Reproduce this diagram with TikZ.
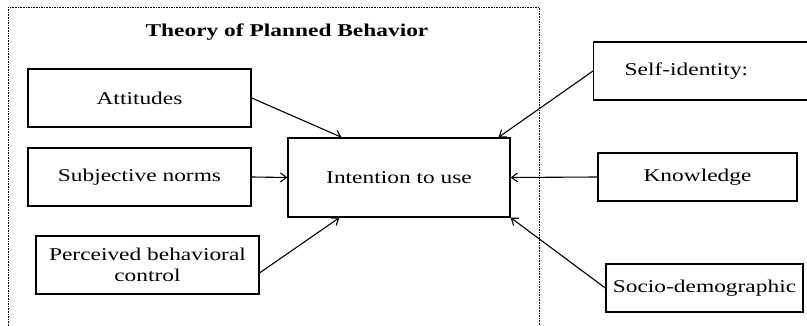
\documentclass[tikz,border=0pt]{standalone}
\usepackage{fontspec}
\setmainfont[FakeStretch=1.3]{Liberation Serif}
\usepackage{tikz}
\usetikzlibrary{positioning,arrows.meta}

\begin{document}
\begin{tikzpicture}[x=1pt, y=-1pt,
    every node/.style = {font=\fontsize{18}{21}\selectfont},
    factor/.style     = {draw, line width=1.4pt, inner sep=2pt, align=center},
    target/.style     = {factor, minimum width=222pt, minimum height=79pt},
    link/.style       = {line width=1.1pt, -{Straight Barb[length=6pt,width=9pt]}}]

  \useasboundingbox (0,0) rectangle (807,326);

  % theory frame
  \node[draw, dash pattern=on 1.6pt off 1pt, line width=0.6pt, anchor=north west,
        minimum width=531pt, minimum height=340pt, inner sep=0pt] (tpb) at (8,7) {};
  \node[font=\fontsize{18}{21}\selectfont\bfseries] (tpb_t) at (287,32) {Theory of Planned Behavior};

  \node[factor, minimum width=223pt, minimum height=58pt] (att)  at (139.5,98)  {Attitudes};
  \node[factor, minimum width=223pt, minimum height=58pt] (subj) at (139.5,177) {Subjective norms};
  \node[factor, minimum width=223pt, minimum height=58pt] (pbc)  at (147.5,265) {Perceived behavioral\\control};
  \node[target] (intent) at (399,177.5) {Intention to use};

  \node[factor, anchor=west, minimum height=58pt, text width=168pt, inner xsep=31pt, align=left] (self) at (593,71) {Self-identity:};
  \node[factor, minimum width=199pt, minimum height=48pt] (know)  at (697.5,177) {Knowledge};
  \node[factor, minimum width=197pt, minimum height=48pt, inner sep=0pt] (socio) at (704.5,288) {Socio-demographic};

  \draw[link] (att.east)   -- (intent.145.3);
  \draw[link] (subj.east)  -- (intent.west);
  \draw[link] (pbc.-4)     -- (intent.214.7);
  \draw[link] (self.west)  -- (intent.22.4);
  \draw[link] (know.west)  -- (intent.east);
  \draw[link] (socio.west) -- (intent.south east);
\end{tikzpicture}
\end{document}
